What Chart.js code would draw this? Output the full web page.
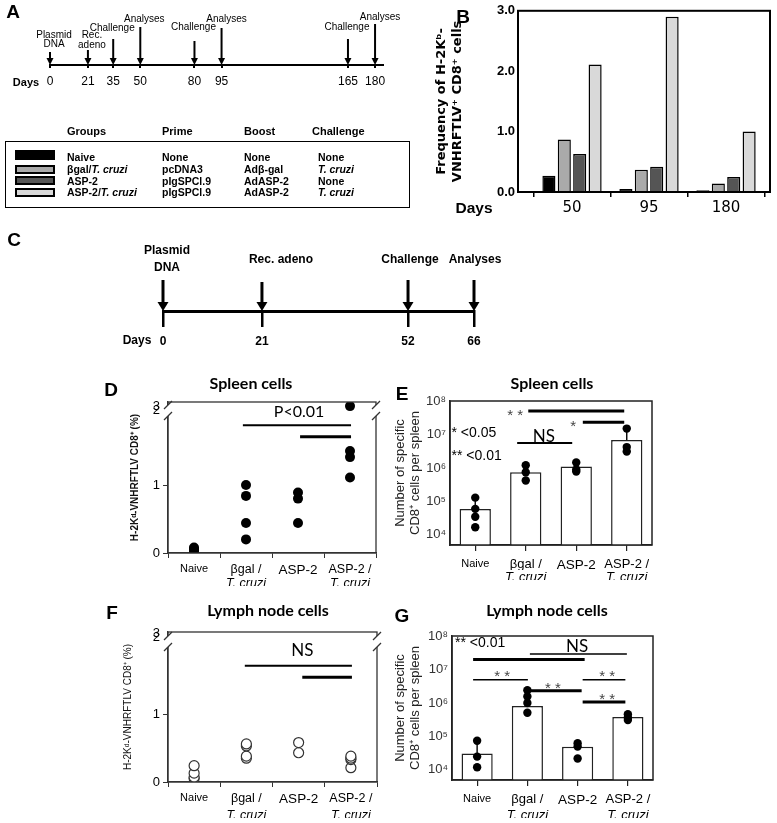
<!DOCTYPE html>
<html><head><meta charset="utf-8"><title>ASP-2 specific CD8+ T cells</title>
<script src="https://cdn.jsdelivr.net/npm/chart.js@4.4.1/dist/chart.umd.min.js"></script>
<style>
html,body{margin:0;padding:0;background:#fff;}
#page{position:relative;width:777px;height:823px;overflow:hidden;background:#fff;font-family:'Liberation Sans',Arial,sans-serif;color:#000;}
#page canvas{position:absolute;left:0;top:0;}
.t{position:absolute;white-space:nowrap;line-height:1;}
.c{transform:translate(-50%,-50%);}
.l{transform:translate(0,-50%);}
.lt{font-weight:bold;font-size:19px;}
.ttl{font-family:Lato,'Open Sans',sans-serif;font-weight:bold;font-size:16px;}
.sw{position:absolute;left:15px;width:40px;box-sizing:border-box;border:2.5px solid #000;}
</style></head><body><div id="page">
<canvas id="cA" width="777" height="823"></canvas>
<canvas id="cB" width="777" height="823"></canvas>
<canvas id="cC" width="777" height="823"></canvas>
<canvas id="cD" width="777" height="823"></canvas>
<canvas id="cE" width="777" height="823"></canvas>
<canvas id="cF" width="777" height="823"></canvas>
<canvas id="cG" width="777" height="823"></canvas>

<div class="t c lt" style="left:13px;top:11px">A</div>
<div class="t c lt" style="left:463px;top:16px">B</div>
<div class="t c lt" style="left:14px;top:239px">C</div>
<div class="t c lt" style="left:111px;top:389px">D</div>
<div class="t c lt" style="left:402px;top:393px">E</div>
<div class="t c lt" style="left:112px;top:612px">F</div>
<div class="t c lt" style="left:402px;top:615px">G</div>

<div class="t c ttl" style="left:251px;top:383px">Spleen cells</div>
<div class="t c ttl" style="left:552px;top:383px">Spleen cells</div>
<div class="t c ttl" style="left:268px;top:610px">Lymph node cells</div>
<div class="t c ttl" style="left:547px;top:610px">Lymph node cells</div>

<div class="t c" style="left:26px;top:82px;font-weight:bold;font-size:11px">Days</div>
<div class="t c" style="left:474px;top:208px;font-weight:bold;font-size:15.5px">Days</div>
<div class="t c" style="left:137px;top:340px;font-weight:bold;font-size:12px">Days</div>

<div style="position:absolute;left:5px;top:141px;width:405px;height:67px;border:1.5px solid #000;box-sizing:border-box"></div>
<div id="tbl"></div>
</div>
<script>
// ---------------- DATA ----------------
// Panel A : immunisation schedule
const aDays = [0, 21, 35, 50, 80, 95, 165, 180];
const aEvents = [['Plasmid', 'DNA'], ['Rec.', 'adeno'], ['Challenge'], ['Analyses'], ['Challenge'], ['Analyses'], ['Challenge'], ['Analyses']];
// Panel A : group table
const tblGroups = ['Naive', 'βgal/<i>T. cruzi</i>', 'ASP-2', 'ASP-2/<i>T. cruzi</i>'];
const tblPrime = ['None', 'pcDNA3', 'pIgSPCl.9', 'pIgSPCl.9'];
const tblBoost = ['None', 'Adβ-gal', 'AdASP-2', 'AdASP-2'];
const tblChallenge = ['None', '<i>T. cruzi</i>', 'None', '<i>T. cruzi</i>'];

// Panel B : frequency of H-2Kb-VNHRFTLV+ CD8+ cells
const bDays = ['50', '95', '180'];
const bNaive = [0.27, 0.05, 0.03];
const bBgal = [0.87, 0.37, 0.14];
const bAsp2 = [0.63, 0.42, 0.25];
const bAsp2T = [2.11, 2.90, 1.00];

// Panel C : schedule
const cDays = [0, 21, 52, 66];
const cEvents = [['Plasmid', 'DNA'], ['Rec. adeno'], ['Challenge'], ['Analyses']];

// Groups (x categories of D-G)
const groupLine1 = ['Naive', 'βgal /', 'ASP-2', 'ASP-2 /'];
const groupLine2 = ['', 'T. cruzi', '', 'T. cruzi'];

// Panel D : spleen, % tetramer+ (individual mice)
const dNaive = [0.03, 0.05, 0.06, 0.08];
const dBgal = [1.00, 0.84, 0.44, 0.20];
const dAsp2 = [0.89, 0.80, 0.44];
const dAsp2T = [2.16, 1.50, 1.41, 1.11];
const pctTicks = [0, 1];
const pctTickLabels = ['0', '1', '2', '3'];

// Panel E : spleen, number of specific CD8+ cells
const eMean = [5.9e4, 7.4e5, 1.1e6, 6.9e6];
const eErrTop = [1.3e5, 1.2e6, 1.45e6, 1.5e7];
const eNaive = [1.3e5, 6.0e4, 3.5e4, 1.7e4];
const eBgal = [1.2e6, 7.4e5, 4.2e5];
const eAsp2 = [1.45e6, 9.0e5, 7.8e5];
const eAsp2T = [1.5e7, 4.2e6, 3.1e6];
const logTicks = [1e4, 1e5, 1e6, 1e7, 1e8];

// Panel F : lymph node, % tetramer+
const fNaive = [0.24, 0.13, 0.07, 0.05];
const fBgal = [0.56, 0.53, 0.38, 0.35];
const fAsp2 = [0.58, 0.43];
const fAsp2T = [0.38, 0.35, 0.33, 0.21];

// Panel G : lymph node, number of specific CD8+ cells
const gMean = [3.1e4, 8.1e5, 4.9e4, 3.8e5];
const gErrTop = [7.4e4, 1.2e6, 6.3e4, 4.3e5];
const gNaive = [7.4e4, 2.5e4, 1.2e4];
const gBgal = [2.4e6, 1.55e6, 1.0e6, 5.1e5];
const gAsp2 = [6.3e4, 5.0e4, 2.2e4];
const gAsp2T = [4.6e5, 3.7e5, 3.1e5];

// ---------------- TABLE (panel A) ----------------
(function () {
  const host = document.getElementById('tbl');
  let h = '';
  const cols = [67, 162, 244, 318];
  ['Groups', 'Prime', 'Boost', 'Challenge'].forEach((t, i) => {
    h += `<div class="t l" style="left:${cols[i] - (i === 3 ? 6 : 0)}px;top:131px;font-weight:bold;font-size:11px">${t}</div>`;
  });
  const rowsY = [157, 169, 181, 192];
  const cols2 = [tblGroups, tblPrime, tblBoost, tblChallenge];
  rowsY.forEach((y, r) => {
    cols2.forEach((arr, c) => {
      h += `<div class="t l" style="left:${cols[c]}px;top:${y}px;font-weight:bold;font-size:10.5px">${arr[r]}</div>`;
    });
  });
  const sw = [['#000', 150, 10], ['#aaaaaa', 165, 9], ['#555555', 176, 9], ['#d9d9d9', 188, 9]];
  sw.forEach(s => { h += `<div class="sw" style="top:${s[1]}px;height:${s[2]}px;background:${s[0]}"></div>`; });
  host.innerHTML = h;
})();

// ---------------- CHART SETUP ----------------
const W = 777, H = 823;
Chart.defaults.font.family = "'Liberation Sans', Arial, sans-serif";
Chart.defaults.color = '#000';
Chart.defaults.animation = false;
Chart.defaults.events = [];
Chart.defaults.plugins.legend.display = false;
Chart.defaults.plugins.tooltip.enabled = false;

const ANN = {};   // annotation/style specs per canvas (not data)
const SUP = { 4: '⁴', 5: '⁵', 6: '⁶', 7: '⁷', 8: '⁸' };

const framePlugin = {
  id: 'frame',
  afterDraw(chart) {
    const cfg = ANN[chart.canvas.id];
    if (!cfg || !cfg.frame) return;
    const { ctx, chartArea: a } = chart;
    ctx.save();
    ctx.strokeStyle = cfg.frame.color; ctx.lineWidth = cfg.frame.width;
    ctx.strokeRect(a.left, a.top, a.right - a.left, a.bottom - a.top);
    if (cfg.brk) {
      const b = cfg.brk;
      [a.left, a.right].forEach(x => {
        ctx.fillStyle = '#fff';
        ctx.fillRect(x - 2, a.top + b[0], 4, b[1] - b[0]);
        ctx.strokeStyle = '#333'; ctx.lineWidth = 1.2;
        [a.top + b[0], a.top + b[1]].forEach(y => {
          ctx.beginPath(); ctx.moveTo(x - 4, y + 4); ctx.lineTo(x + 4, y - 4); ctx.stroke();
        });
      });
    }
    ctx.restore();
  }
};

const sigPlugin = {
  id: 'sig',
  afterDatasetsDraw(chart) {
    const cfg = ANN[chart.canvas.id];
    if (!cfg || !cfg.lines) return;
    const xs = chart.scales.x, ys = chart.scales.y, ctx = chart.ctx;
    ctx.save();
    ctx.strokeStyle = '#000';
    cfg.lines.forEach(l => {
      const py = ys.getPixelForValue(l.v);
      ctx.lineWidth = l.w;
      ctx.beginPath(); ctx.moveTo(xs.getPixelForValue(l.a), py); ctx.lineTo(xs.getPixelForValue(l.b), py); ctx.stroke();
    });
    cfg.notes.forEach(n => {
      ctx.font = n.font; ctx.fillStyle = n.color || '#000';
      ctx.textAlign = n.align || 'center'; ctx.textBaseline = 'middle';
      ctx.fillText(n.t, xs.getPixelForValue(n.i), ys.getPixelForValue(n.v) + (n.dy || 0));
    });
    ctx.restore();
  }
};

const errPlugin = {
  id: 'errbars',
  afterDatasetDraw(chart, args) {
    const cfg = ANN[chart.canvas.id];
    if (!cfg || !cfg.err || args.index !== 0) return;
    const ys = chart.scales.y, ctx = chart.ctx;
    const bars = chart.getDatasetMeta(0).data;
    ctx.save(); ctx.strokeStyle = '#000'; ctx.lineWidth = 1.4;
    cfg.err.forEach((v, i) => {
      if (v == null) return;
      const el = bars[i];
      ctx.beginPath(); ctx.moveTo(el.x, el.y); ctx.lineTo(el.x, ys.getPixelForValue(v)); ctx.stroke();
    });
    ctx.restore();
  }
};

const timelinePlugin = {
  id: 'timeline',
  afterDraw(chart) {
    const cfg = ANN[chart.canvas.id];
    if (!cfg || !cfg.tl) return;
    const t = cfg.tl, xs = chart.scales.x, ctx = chart.ctx, base = chart.chartArea.bottom;
    ctx.save(); ctx.fillStyle = '#000'; ctx.strokeStyle = '#000';
    t.days.forEach((d, i) => {
      const x = xs.getPixelForValue(d);
      ctx.lineWidth = t.shaft;
      ctx.beginPath(); ctx.moveTo(x, base - t.len[i]); ctx.lineTo(x, base - t.headH + 1); ctx.stroke();
      ctx.beginPath();
      ctx.moveTo(x - t.headW / 2, base - t.headH); ctx.lineTo(x + t.headW / 2, base - t.headH); ctx.lineTo(x, base);
      ctx.closePath(); ctx.fill();
      ctx.font = t.font; ctx.textAlign = 'center'; ctx.textBaseline = 'middle';
      t.labels[i].forEach((s, j) => ctx.fillText(s, x + t.dx[i], t.ly[i][j]));
    });
    ctx.restore();
  }
};
Chart.register(framePlugin, sigPlugin, errPlugin, timelinePlugin);

function pad(area, plx, xH) {
  return { padding: { left: plx, top: area[1], right: W - area[2], bottom: H - area[3] - xH } };
}
function replicateSets(groups, style) {
  const n = Math.max(...groups.map(g => g.length));
  const sets = [];
  for (let k = 0; k < n; k++) {
    sets.push(Object.assign({ type: 'line', showLine: false, data: groups.map(g => (g[k] === undefined ? null : g[k])) }, style));
  }
  return sets;
}

// ---------------- A : timeline ----------------
ANN.cA = { tl: {
  days: aDays, labels: aEvents, font: "10px 'Liberation Sans', Arial, sans-serif",
  len: [13, 15, 26, 38, 24, 37, 26, 41], dx: [4, 4, -1, 4, -1, 5, -1, 5],
  ly: [[35, 44], [35, 45], [28], [19], [27], [19], [27], [17]],
  shaft: 2, headW: 7, headH: 7 } };
new Chart(document.getElementById('cA'), {
  type: 'scatter',
  data: { datasets: [{ data: aDays.map(d => ({ x: d, y: 0 })), pointRadius: 0 }] },
  options: {
    responsive: false,
    layout: pad([50, 0, 383, 65], 50, 25),
    scales: {
      x: { type: 'linear', min: 0, max: 184.4, afterFit: s => { s.height = 25; },
        afterBuildTicks: s => { s.ticks = aDays.map(v => ({ value: v })); },
        grid: { drawOnChartArea: false, tickLength: 3, lineWidth: 2, color: '#000' },
        border: { width: 2, color: '#000' },
        ticks: { autoSkip: false, maxRotation: 0, padding: 6, font: { size: 12 }, callback: v => String(v) } },
      y: { display: false, min: 0, max: 1 }
    }
  }
});

// ---------------- B : bars ----------------
ANN.cB = { frame: { width: 2, color: '#000' } };
const bStyle = (arr, color) => ({ data: arr.map((v, i) => ({ x: i + 1, y: v })), backgroundColor: color, borderColor: '#000', borderWidth: 1.5, categoryPercentage: 0.8, barPercentage: 0.85 });
const bMin = 0.2987, bMax = 3.571;
new Chart(document.getElementById('cB'), {
  type: 'bar',
  data: { datasets: [bStyle(bNaive, '#000'), bStyle(bBgal, '#aaaaaa'), bStyle(bAsp2, '#555555'), bStyle(bAsp2T, '#d9d9d9')] },
  options: {
    responsive: false,
    layout: pad([518, 10, 770, 192], 420, 27),
    scales: {
      x: { type: 'linear', min: bMin, max: bMax, offset: false, afterFit: s => { s.height = 5; },
        afterBuildTicks: s => { s.ticks = [0.5, 1.5, 2.5, 3.5].map(v => ({ value: v })); },
        grid: { offset: false, drawOnChartArea: false, tickLength: 5, lineWidth: 1.5, color: '#000' },
        border: { width: 2, color: '#000' },
        ticks: { display: false } },
      xDays: { type: 'linear', position: 'bottom', min: bMin, max: bMax, offset: false, afterFit: s => { s.height = 22; },
        afterBuildTicks: s => { s.ticks = [1, 2, 3].map(v => ({ value: v })); },
        grid: { display: false, drawTicks: false, offset: false }, border: { display: false },
        ticks: { autoSkip: false, maxRotation: 0, padding: 2, font: { size: 15, family: "'DejaVu Sans', sans-serif" },
          callback: v => bDays[Math.round(v) - 1] } },
      y: { min: 0, max: 3, afterFit: s => { s.width = 98; },
        ticks: { stepSize: 1, padding: 3, font: { size: 13, weight: 'bold' }, callback: v => v.toFixed(1) },
        grid: { drawOnChartArea: false, drawTicks: false },
        border: { width: 2, color: '#000' },
        title: { display: true, text: ['Frequency of H-2Kᵇ-', 'VNHRFTLV⁺ CD8⁺ cells'],
          font: { size: 13, weight: 'bold', family: "'DejaVu Sans', sans-serif", lineHeight: 1.2 }, padding: { top: 14, bottom: 0 } } }
    }
  }
});

// ---------------- C : timeline ----------------
ANN.cC = { tl: {
  days: cDays, labels: cEvents, font: "bold 12px 'Liberation Sans', Arial, sans-serif",
  len: [31, 29, 31, 31], dx: [4, 19, 2, 1],
  ly: [[251, 268], [260], [260], [260]],
  shaft: 3, headW: 11, headH: 9 } };
new Chart(document.getElementById('cC'), {
  type: 'scatter',
  data: { datasets: [{ data: cDays.map(d => ({ x: d, y: 0 })), pointRadius: 0 }] },
  options: {
    responsive: false,
    layout: pad([163, 200, 474, 311], 163, 40),
    scales: {
      x: { type: 'linear', min: 0, max: 66, afterFit: s => { s.height = 40; },
        afterBuildTicks: s => { s.ticks = cDays.map(v => ({ value: v })); },
        grid: { drawOnChartArea: false, tickLength: 16, lineWidth: 2.5, color: '#000' },
        border: { width: 3, color: '#000' },
        ticks: { autoSkip: false, maxRotation: 0, padding: 7, font: { size: 12, weight: 'bold' }, callback: v => String(v) } },
      y: { display: false, min: 0, max: 1 }
    }
  }
});

// ---------------- helpers for D/F ----------------
function pctChart(id, area, groups, pointStyle, topTicks, titleBold, titlePad, xH) {
  const ticks = pctTicks.concat(topTicks);
  return new Chart(document.getElementById(id), {
    type: 'line',
    data: { labels: groupLine1, datasets: replicateSets(groups, pointStyle) },
    options: {
      responsive: false,
      layout: pad(area, 100, xH + 10),
      scales: {
        x: { type: 'category', offset: true, afterFit: s => { s.height = xH; },
          grid: { offset: true, drawOnChartArea: false, tickLength: 5, color: '#333', lineWidth: 1 },
          border: { color: '#333', width: 1.3 },
          ticks: { autoSkip: false, maxRotation: 0, padding: 4, font: c => ({ size: [11, 12.5, 13.5, 12.5][c.index] }) } },
        x2: { type: 'category', position: 'bottom', labels: groupLine2, offset: true, afterFit: s => { s.height = 10; },
          grid: { display: false, drawTicks: false }, border: { display: false },
          ticks: { autoSkip: false, maxRotation: 0, padding: 0, font: { size: 12.5, style: 'italic' } } },
        y: { type: 'linear', min: 0, max: (area[3] - area[1]) / 68, afterFit: s => { s.width = area[0] - 100; },
          afterBuildTicks: s => { s.ticks = ticks.map(v => ({ value: v })); },
          ticks: { autoSkip: false, padding: 3, font: { size: 13 }, callback: (v, i) => pctTickLabels[i] },
          grid: { drawOnChartArea: false, tickLength: 5, color: c => (c.tick && c.tick.value > 1.5) ? 'rgba(0,0,0,0)' : '#333' },
          border: { color: '#333', width: 1.3 },
          title: { display: true, text: 'H-2Kᵈ-VNHRFTLV CD8⁺ (%)', color: '#111',
            font: { size: 10, weight: titleBold ? 'bold' : 'normal' }, padding: { top: titlePad, bottom: 0 } } }
      }
    }
  });
}

// ---------------- D ----------------
ANN.cD = {
  frame: { width: 1.3, color: '#333' }, brk: [3, 14],
  lines: [{ a: 0.94, b: 3.02, v: 1.88, w: 2 }, { a: 2.04, b: 3.02, v: 1.71, w: 3 }],
  notes: [{ i: 2.02, v: 2.07, t: 'P<0.01', font: "16px Lato, 'Open Sans', sans-serif" }]
};
pctChart('cD', [168, 402, 376, 553], [dNaive, dBgal, dAsp2, dAsp2T],
  { pointRadius: 5, pointBackgroundColor: '#000', pointBorderColor: '#000', pointBorderWidth: 0 },
  [2.09, 2.15], true, 29, 23);

// ---------------- F ----------------
ANN.cF = {
  frame: { width: 1.3, color: '#333' }, brk: [4, 15],
  lines: [{ a: 0.97, b: 3.02, v: 1.71, w: 2 }, { a: 2.07, b: 3.02, v: 1.54, w: 3 }],
  notes: [{ i: 2.07, v: 1.94, t: 'NS', font: "17px Lato, 'Open Sans', sans-serif" }]
};
pctChart('cF', [168, 632, 377, 782], [fNaive, fBgal, fAsp2, fAsp2T],
  { pointRadius: 5, pointBackgroundColor: '#fff', pointBorderColor: '#333', pointBorderWidth: 1.2 },
  [2.13, 2.19], false, 22, 26);

// ---------------- helpers for E/G ----------------
function countChart(id, area, mean, groups, xH) {
  return new Chart(document.getElementById(id), {
    type: 'bar',
    data: { labels: groupLine1, datasets: [
      { type: 'bar', data: mean, backgroundColor: '#fff', borderColor: '#222', borderWidth: 1.5, barPercentage: 0.62, categoryPercentage: 1, order: 2 }
    ].concat(replicateSets(groups, { pointRadius: 4.2, pointBackgroundColor: '#000', pointBorderColor: '#000', pointBorderWidth: 0, order: 1 })) },
    options: {
      responsive: false,
      layout: pad(area, 390, xH + 10),
      scales: {
        x: { type: 'category', offset: true, afterFit: s => { s.height = xH; },
          grid: { offset: false, drawOnChartArea: false, tickLength: 6, color: '#222', lineWidth: 1.2 },
          border: { color: '#222', width: 1.5 },
          ticks: { autoSkip: false, maxRotation: 0, padding: 6, font: c => ({ size: [11, 13, 13.5, 13][c.index] }) } },
        x2: { type: 'category', position: 'bottom', labels: groupLine2, offset: true, afterFit: s => { s.height = 10; },
          grid: { display: false, drawTicks: false }, border: { display: false },
          ticks: { autoSkip: false, maxRotation: 0, padding: 0, font: { size: 13, style: 'italic' } } },
        y: { type: 'logarithmic', min: 5000, max: 1e8, beginAtZero: false, afterFit: s => { s.width = area[0] - 390; },
          afterBuildTicks: s => { s.ticks = logTicks.map(v => ({ value: v })); },
          ticks: { autoSkip: false, padding: 4, color: '#333', font: { size: 13 }, callback: v => '10' + SUP[Math.round(Math.log10(v))] },
          grid: { drawOnChartArea: false, drawTicks: false },
          border: { color: '#222', width: 1.5 },
          title: { display: true, text: ['Number of specific', 'CD8⁺ cells per spleen'], color: '#222',
            font: { size: 13, lineHeight: 1.15 }, padding: { top: 2.5, bottom: 0 } } }
      }
    }
  });
}

// ---------------- E ----------------
const starFont = "15px 'Liberation Sans', Arial, sans-serif";
const noteFont = "14px 'Liberation Sans', Arial, sans-serif";
ANN.cE = {
  frame: { width: 1.5, color: '#222' }, err: eErrTop,
  lines: [{ a: 1.05, b: 2.95, v: 5.0e7, w: 3 }, { a: 2.13, b: 2.95, v: 2.3e7, w: 3 }, { a: 0.83, b: 1.92, v: 5.6e6, w: 2 }],
  notes: [
    { i: 0.79, v: 4.7e7, t: '* *', font: starFont, color: '#444', dy: 4 },
    { i: 1.94, v: 2.2e7, t: '*', font: starFont, color: '#444', dy: 4 },
    { i: 1.36, v: 8.5e6, t: 'NS', font: "17px Lato, 'Open Sans', sans-serif" },
    { i: -0.47, v: 1.1e7, t: '* <0.05', font: noteFont, align: 'left' },
    { i: -0.47, v: 2.3e6, t: '** <0.01', font: noteFont, align: 'left' }
  ]
};
countChart('cE', [450, 401, 652, 545], eMean, [eNaive, eBgal, eAsp2, eAsp2T], 25);

// ---------------- G ----------------
ANN.cG = {
  frame: { width: 1.5, color: '#222' }, err: gErrTop,
  lines: [
    { a: 1.05, b: 2.98, v: 2.9e7, w: 1.5 }, { a: -0.08, b: 2.14, v: 2.0e7, w: 3 },
    { a: -0.08, b: 1.01, v: 4.9e6, w: 1.5 }, { a: 2.10, b: 2.95, v: 4.9e6, w: 1.5 },
    { a: 0.99, b: 2.08, v: 2.3e6, w: 3 }, { a: 2.10, b: 2.95, v: 1.07e6, w: 3 }
  ],
  notes: [
    { i: -0.44, v: 6.2e7, t: '** <0.01', font: noteFont, align: 'left' },
    { i: 1.99, v: 5.0e7, t: 'NS', font: "17px Lato, 'Open Sans', sans-serif" },
    { i: 0.5, v: 7.9e6, t: '* *', font: starFont, color: '#444', dy: 4 },
    { i: 2.59, v: 7.9e6, t: '* *', font: starFont, color: '#444', dy: 4 },
    { i: 1.51, v: 3.5e6, t: '* *', font: starFont, color: '#444', dy: 4 },
    { i: 2.59, v: 1.6e6, t: '* *', font: starFont, color: '#444', dy: 4 }
  ]
};
countChart('cG', [452, 636, 653, 780], gMean, [gNaive, gBgal, gAsp2, gAsp2T], 28);
</script>
</body></html>
